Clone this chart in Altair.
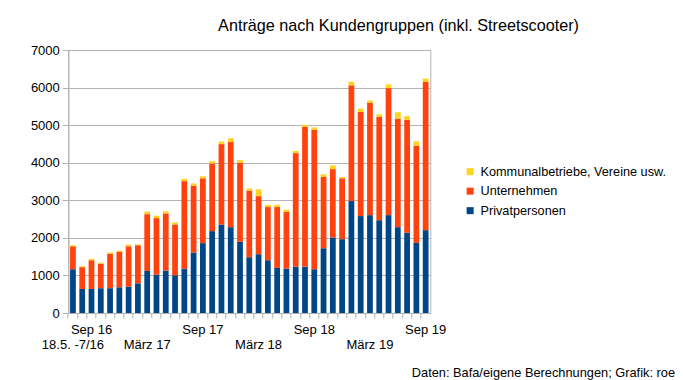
import altair as alt
import pandas as pd

months = ["18.5. -7/16", "Aug 16", "Sep 16", "Okt 16", "Nov 16", "Dez 16",
          "Jan 17", "Feb 17", "März 17", "Apr 17", "Mai 17", "Jun 17", "Jul 17", "Aug 17", "Sep 17",
          "Okt 17", "Nov 17", "Dez 17", "Jan 18", "Feb 18", "März 18", "Apr 18", "Mai 18", "Jun 18",
          "Jul 18", "Aug 18", "Sep 18", "Okt 18", "Nov 18", "Dez 18", "Jan 19", "Feb 19", "März 19",
          "Apr 19", "Mai 19", "Jun 19", "Jul 19", "Aug 19", "Sep 19"]

privat = [1165, 640, 640, 660, 660, 685, 700, 790, 1120, 1020, 1130, 1005, 1180, 1610, 1860,
          2180, 2355, 2285, 1895, 1485, 1565, 1405, 1200, 1180, 1235, 1235, 1165, 1725, 2010,
          1965, 2980, 2580, 2605, 2470, 2605, 2285, 2135, 1865, 2205]
unternehmen = [610, 580, 765, 655, 915, 940, 1075, 1015, 1510, 1505, 1520, 1350, 2330, 1780, 1725,
               1800, 2140, 2265, 2105, 1770, 1545, 1415, 1620, 1510, 3020, 3715, 3715, 1895, 1820,
               1620, 3080, 2770, 2990, 2750, 3380, 2890, 3005, 2590, 3945]
kommunal = [30, 25, 35, 27, 35, 35, 45, 18, 70, 65, 55, 55, 60, 60, 55,
            60, 70, 100, 70, 60, 180, 55, 60, 60, 60, 60, 60, 70, 100,
            35, 100, 90, 60, 70, 100, 170, 100, 115, 90]

series_names = ["Privatpersonen", "Unternehmen", "Kommunalbetriebe, Vereine usw."]
legend_order = ["Kommunalbetriebe, Vereine usw.", "Unternehmen", "Privatpersonen"]
legend_colors = ["#ffd320", "#ff420e", "#004586"]

upper_labels = ["Sep 16", "Sep 17", "Sep 18", "Sep 19"]
lower_labels = ["18.5. -7/16", "März 17", "März 18", "März 19"]

title_text = "Anträge nach Kundengruppen (inkl. Streetscooter)"
footer_text = "Daten: Bafa/eigene Berechnungen; Grafik: roe"

rows = []
for i, m in enumerate(months):
    for k, (name, vals) in enumerate(zip(series_names, [privat, unternehmen, kommunal])):
        rows.append({"monat": m, "gruppe": name, "wert": vals[i], "ord": k})
df = pd.DataFrame(rows)

W, H = 362, 263
FONT = "Liberation Sans"

xscale = alt.Scale(domain=months, paddingInner=0, paddingOuter=0)

bars = alt.Chart(df).mark_bar(width=alt.RelativeBandSize(0.62)).encode(
    x=alt.X("monat:N", sort=months, scale=xscale, title=None,
            axis=alt.Axis(labels=False, bandPosition=0, tickSize=5, tickColor="#b3b3b3",
                          domainColor="#b3b3b3", grid=False)),
    y=alt.Y("wert:Q", stack="zero", title=None,
            scale=alt.Scale(domain=[0, 7000], nice=False),
            axis=alt.Axis(values=[0, 1000, 2000, 3000, 4000, 5000, 6000, 7000], format="d",
                          tickSize=6, tickColor="#b3b3b3", domainColor="#b3b3b3",
                          gridColor="#b3b3b3", labelFontSize=13, labelFont=FONT,
                          labelColor="#000000", labelPadding=3)),
    color=alt.Color("gruppe:N", scale=alt.Scale(domain=legend_order, range=legend_colors),
                    legend=alt.Legend(title=None, orient="none", legendX=395.5, legendY=115.3,
                                      symbolType="square", symbolSize=49, symbolStrokeWidth=0,
                                      labelFontSize=12.7, labelFont=FONT, labelColor="#000000",
                                      labelLimit=0, rowPadding=5.5, labelOffset=4)),
    order=alt.Order("ord:Q"),
)

up_df = pd.DataFrame({"monat": upper_labels})
lo_df = pd.DataFrame({"monat": lower_labels})

up_text = alt.Chart(up_df).mark_text(font=FONT, fontSize=13, baseline="alphabetic",
                                      color="#000000").encode(
    x=alt.X("monat:N", sort=months, scale=xscale), y=alt.value(H + 21), text="monat:N")
lo_text = alt.Chart(lo_df).mark_text(font=FONT, fontSize=13, baseline="alphabetic",
                                      color="#000000").encode(
    x=alt.X("monat:N", sort=months, scale=xscale), y=alt.value(H + 36), text="monat:N")

title = alt.Chart(pd.DataFrame({"t": [title_text]})).mark_text(
    font=FONT, fontSize=16.2, baseline="alphabetic", align="center", color="#000000").encode(
    x=alt.value(330.2), y=alt.value(-19), text="t:N")
footer = alt.Chart(pd.DataFrame({"t": [footer_text]})).mark_text(
    font=FONT, fontSize=12.8, baseline="alphabetic", align="right", color="#000000").encode(
    x=alt.value(606.7), y=alt.value(326.5), text="t:N")

chart = alt.layer(bars, up_text, lo_text, title, footer).properties(
    width=W, height=H,
    autosize=alt.AutoSizeParams(type="none"),
    padding={"left": 60.3, "top": 42, "right": 244.7, "bottom": 67},
).configure_view(stroke="#b3b3b3", strokeWidth=1)

chart.save("out.html", embed_options={"renderer": "svg", "actions": False})
